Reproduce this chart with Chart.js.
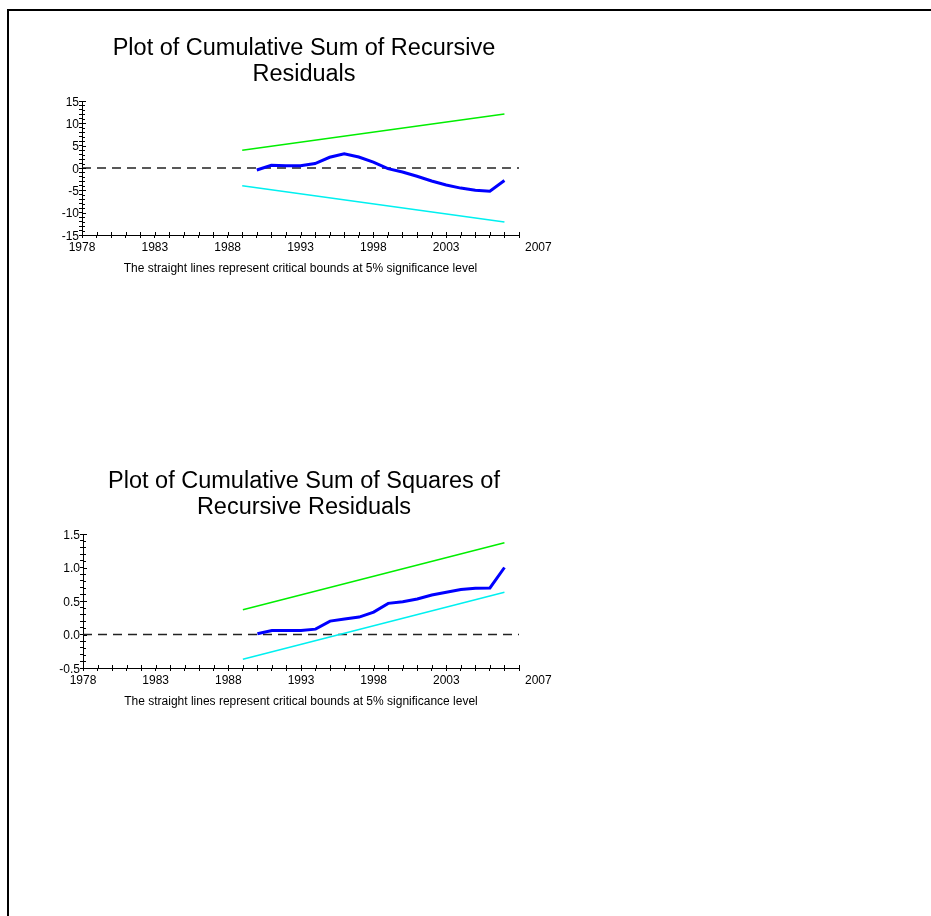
<!DOCTYPE html>
<html>
<head>
<meta charset="utf-8">
<script src="https://cdn.jsdelivr.net/npm/chart.js@4.4.0/dist/chart.umd.min.js"></script>
<style>
  html, body { margin: 0; padding: 0; background: #fff; }
  body { width: 931px; height: 916px; position: relative; overflow: hidden; }
  #frame { position: absolute; left: 7px; top: 9px; width: 960px; height: 960px;
           border-left: 2px solid #000; border-top: 2px solid #000; }
  .box { position: absolute; left: 0; }
  #box1 { top: 0; }
  #box2 { top: 433px; }
</style>
</head>
<body>
<div id="frame"></div>
<div class="box" id="box1"><canvas id="cusum" width="608" height="290"></canvas></div>
<div class="box" id="box2"><canvas id="cusumsq" width="608" height="290"></canvas></div>
<script>
// sample years of the recursive residuals
const years = [1990, 1991, 1992, 1993, 1994, 1995, 1996, 1997, 1998,
               1999, 2000, 2001, 2002, 2003, 2004, 2005, 2006, 2007];

// cumulative sum of recursive residuals
const cusum = [-0.45, 0.6, 0.5, 0.5, 1.0, 2.4, 3.2, 2.45, 1.3,
               -0.15, -0.9, -1.85, -2.9, -3.8, -4.5, -5.0, -5.2, -2.8];

// cumulative sum of squares of recursive residuals
const cusumsq = [0.01, 0.06, 0.06, 0.06, 0.08, 0.2, 0.23, 0.26, 0.335,
                 0.465, 0.49, 0.53, 0.59, 0.63, 0.67, 0.69, 0.695, 1.0];

// 5% critical bounds (straight lines)
const boundYears = [1989, 2007];
const cusumUpper = [4.0, 12.1];
const cusumLower = [-4.0, -12.1];
const sqUpper = [0.37, 1.37];
const sqLower = [-0.37, 0.63];

// axes
const axisYears = [1978, 2008];
const xTickLabels = [1978, 1983, 1988, 1993, 1998, 2003];
const endLabel = "2007";

const FONT = "'Liberation Sans', Arial, sans-serif";
const note = "The straight lines represent critical bounds at 5% significance level";

function pts(xs, ys) {
  return xs.map((x, i) => ({ x: x, y: ys[i] }));
}

// small tick marks on the inside of the axes + the last year label
const tickMarks = {
  id: "tickMarks",
  afterDraw(chart, args, opts) {
    const ctx = chart.ctx;
    const xs = chart.scales.x, ys = chart.scales.y, a = chart.chartArea;
    ctx.save();
    ctx.strokeStyle = "#000";
    ctx.lineWidth = 1;
    ctx.beginPath();
    xs.ticks.forEach(t => {
      const px = Math.round(xs.getPixelForValue(t.value)) + 0.5;
      ctx.moveTo(px, a.bottom);
      ctx.lineTo(px, a.bottom - 3);
    });
    ys.ticks.forEach(t => {
      const py = Math.round(ys.getPixelForValue(t.value)) + 0.5;
      ctx.moveTo(a.left, py);
      ctx.lineTo(a.left + (t.label ? 4 : 3), py);
    });
    ctx.stroke();
    ctx.fillStyle = "#000";
    ctx.font = "12px " + FONT;
    ctx.textAlign = "left";
    ctx.textBaseline = "middle";
    ctx.fillText(opts.endLabel, xs.right + 6, a.bottom + 13);
    ctx.restore();
  }
};

function makeChart(id, cfg) {
  return new Chart(document.getElementById(id), {
    type: "line",
    data: {
      datasets: [
        { data: pts(years, cfg.series), borderColor: "#0000ff", borderWidth: 3 },
        { data: pts(boundYears, cfg.upper), borderColor: "#00ee00", borderWidth: 1.5 },
        { data: pts(boundYears, cfg.lower), borderColor: "#00f0f0", borderWidth: 1.5 },
        { data: pts(axisYears, [0, 0]), borderColor: "#222", borderWidth: 1.3, borderDash: [9, 6] }
      ]
    },
    plugins: [tickMarks],
    options: {
      responsive: false,
      animation: false,
      devicePixelRatio: 1,
      layout: { padding: 0, autoPadding: false },
      elements: { point: { radius: 0 }, line: { tension: 0 } },
      plugins: {
        legend: { display: false },
        tooltip: { enabled: false },
        tickMarks: { endLabel: endLabel },
        title: {
          display: true,
          text: cfg.title,
          color: "#000",
          font: { family: FONT, size: 23.5, weight: "normal", lineHeight: "26px" },
          padding: { top: 36, bottom: 13 }
        }
      },
      scales: {
        x: {
          type: "linear",
          min: axisYears[0],
          max: axisYears[1],
          border: { color: "#000", width: 1 },
          grid: { drawOnChartArea: false, tickLength: 3, color: "#000", tickColor: "#000" },
          ticks: {
            stepSize: 1, autoSkip: false, maxRotation: 0, padding: 2, color: "#000",
            font: { family: FONT, size: 12 },
            callback: v => xTickLabels.includes(v) ? String(v) : ""
          },
          title: {
            display: true, text: note, color: "#000",
            font: { family: FONT, size: 12 },
            padding: { top: 0, bottom: 14 }
          },
          afterFit: s => { s.height = 55; }
        },
        y: {
          type: "linear",
          min: cfg.min,
          max: cfg.max,
          border: { color: "#000", width: 1 },
          grid: { drawOnChartArea: false, tickLength: 3, color: "#000", tickColor: "#000" },
          ticks: {
            stepSize: cfg.step, autoSkip: false, padding: 0, labelOffset: 1.5, color: "#000",
            font: { family: FONT, size: 12 },
            callback: cfg.label
          },
          afterFit: s => { s.width = cfg.left; }
        },
        pad: {
          type: "linear",
          position: "right",
          grid: { display: false },
          border: { display: false },
          ticks: { display: false },
          afterFit: s => { s.width = 89; }
        }
      }
    }
  });
}

makeChart("cusum", {
  title: ["Plot of Cumulative Sum of Recursive", "Residuals"],
  series: cusum, upper: cusumUpper, lower: cusumLower,
  min: -15, max: 15, step: 1, left: 82,
  label: v => (Math.round(v) % 5 === 0 ? String(Math.round(v)) : "")
});

makeChart("cusumsq", {
  title: ["Plot of Cumulative Sum of Squares of", "Recursive Residuals"],
  series: cusumsq, upper: sqUpper, lower: sqLower,
  min: -0.5, max: 1.5, step: 0.1, left: 83,
  label: v => (Math.round(v * 10) % 5 === 0 ? v.toFixed(1) : "")
});
</script>
</body>
</html>
